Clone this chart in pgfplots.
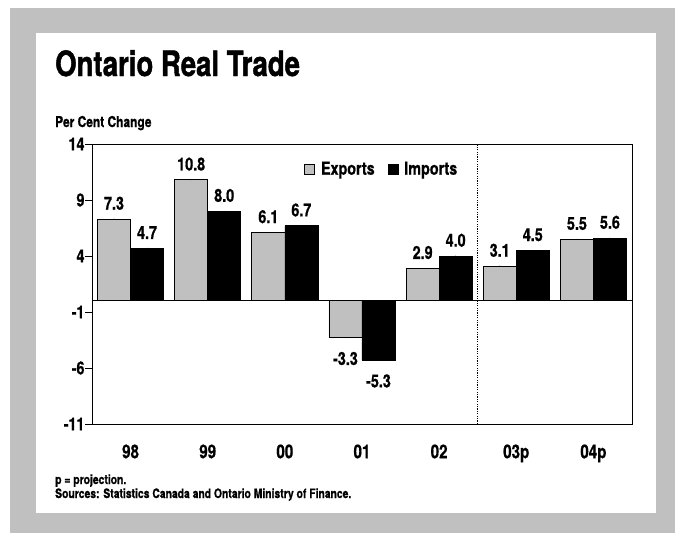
\documentclass[border=0pt]{standalone}
\usepackage{fontspec}
\setmainfont{TeX Gyre Heros}[FakeStretch=0.8, FakeBold=0.8]
\newfontfamily\titlefont{TeX Gyre Heros}[FakeStretch=0.79, FakeBold=1.2]
\usepackage{pgfplots}
\usepackage{pgfplotstable}
\pgfplotsset{compat=1.18}
\definecolor{bgray}{HTML}{C0C0C0}
\pgfplotstableread{
x y lab
0 7.3 7.3
1 10.8 10.8
2 6.1 6.1
3 -3.3 -3.3
4 2.9 2.9
5 3.1 3.1
6 5.5 5.5
}\exports
\pgfplotstableread{
x y lab
0 4.7 4.7
1 8.0 8.0
2 6.7 6.7
3 -5.3 -5.3
4 4.0 4.0
5 4.5 4.5
6 5.6 5.6
}\imports
\pgfplotsset{
  poslab/.style={forget plot, only marks, mark=*, mark size=0.1pt, mark options={draw=none, fill=none},
    point meta=explicit symbolic, restrict y to domain=0:100, nodes near coords,
    every node near coord/.append style={font=\bfseries\fontsize{18}{18}\selectfont, inner sep=0pt, anchor=south, yshift=9bp}},
  neglab/.style={forget plot, only marks, mark=*, mark size=0.1pt, mark options={draw=none, fill=none},
    point meta=explicit symbolic, restrict y to domain=-100:0, nodes near coords,
    every node near coord/.append style={font=\bfseries\fontsize{18}{18}\selectfont, inner sep=0pt, anchor=north, yshift=-14bp}},
}
\begin{document}
\begin{tikzpicture}
\useasboundingbox (0bp,0bp) rectangle (675bp,-533bp);
\fill[bgray] (10bp,-8bp) rectangle (675bp,-533bp);
\fill[white] (36bp,-33bp) rectangle (656bp,-513bp);
\node[anchor=base west, inner sep=0, font=\titlefont\bfseries\fontsize{35}{35}\selectfont] at (55bp,-76bp) {Ontario Real Trade};
\node[anchor=base west, inner sep=0, font=\bfseries\fontsize{15}{15}\selectfont] at (55bp,-127bp) {Per Cent Change};
\node[anchor=base west, inner sep=0, font=\bfseries\fontsize{13}{13}\selectfont] at (55bp,-484bp) {p = projection.};
\node[anchor=base west, inner sep=0, font=\bfseries\fontsize{13}{13}\selectfont] at (55bp,-498bp) {Sources: Statistics Canada and Ontario Ministry of Finance.};
\begin{axis}[
  at={(92bp,-424bp)}, anchor=south west,
  width=540bp, height=280bp, scale only axis,
  xmin=-0.5, xmax=6.5, ymin=-11, ymax=14,
  ytick={-11,-6,-1,4,9,14}, yticklabels={-11,-6,-1,4,9,14},
  xtick={0,...,6}, xticklabels={98,99,00,01,02,03p,04p},
  tick align=outside, ytick pos=left, major tick length=7bp,
  xtick style={draw=none},
  ytick style={black, line width=0.9bp},
  axis line style={black, line width=0.9bp},
  yticklabel style={font=\bfseries\fontsize{18}{18}\selectfont, xshift=3bp},
  xticklabel style={font=\bfseries\fontsize{19}{19}\selectfont, yshift=-10bp},
  legend columns=2,
  legend style={at={(rel axis cs:0.393,0.911)}, anchor=west, draw=none, fill=none, inner sep=0pt,
    font=\bfseries\fontsize{18}{18}\selectfont,
    /tikz/every odd column/.append style={column sep=4bp},
    /tikz/every even column/.append style={column sep=11bp}},
]
\addplot[ybar, bar width=0.428, bar shift=-0.214, fill=bgray, draw=black, line width=0.7bp,
  legend image code/.code={\draw[fill=bgray, draw=black, line width=0.6bp] (0bp,-5bp) rectangle (10bp,5bp);}]
  table[x=x, y=y] {\exports};
\addplot[ybar, bar width=0.428, bar shift=0.214, fill=black, draw=black, line width=0.7bp,
  legend image code/.code={\draw[fill=black, draw=black, line width=0.6bp] (0bp,-5bp) rectangle (10bp,5bp);}]
  table[x=x, y=y] {\imports};
\legend{Exports, Imports}
\addplot[poslab] table[x expr=\thisrow{x}-0.214, y=y, meta=lab] {\exports};
\addplot[neglab] table[x expr=\thisrow{x}-0.214, y=y, meta=lab] {\exports};
\addplot[poslab] table[x expr=\thisrow{x}+0.214, y=y, meta=lab] {\imports};
\addplot[neglab] table[x expr=\thisrow{x}+0.214, y=y, meta=lab] {\imports};
\draw[black, line width=0.9bp] (axis cs:-0.5,0) -- (axis cs:6.5,0);
\draw[black, line width=1.5bp, dash pattern=on 1.2bp off 1.2bp] (axis cs:4.5,-11) -- (axis cs:4.5,14);
\end{axis}
\end{tikzpicture}
\end{document}
